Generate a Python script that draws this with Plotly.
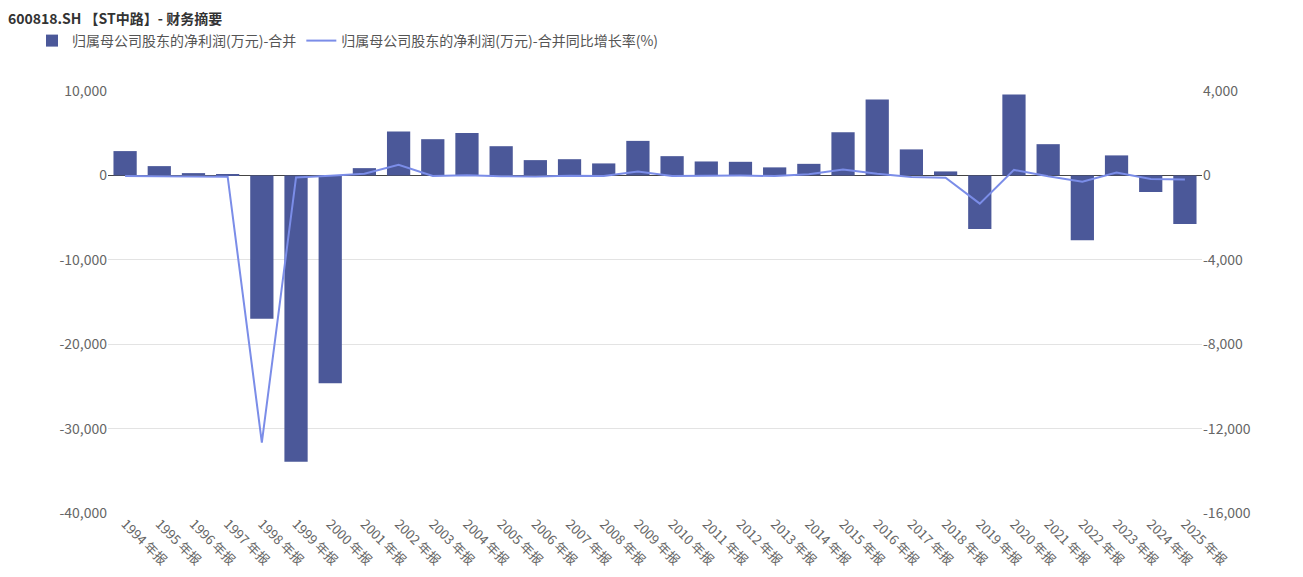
import plotly.graph_objects as go

# data
YEARS = list(range(1994, 2026))
CATEGORIES = ["%d 年报" % y for y in YEARS]

# 归属母公司股东的净利润(万元)-合并
NET_PROFIT = [2880, 1100, 270, 100, -16970, -33930, -24640, 860,
              5200, 4290, 5030, 3460, 1810, 1920, 1420, 4090,
              2280, 1650, 1610, 950, 1370, 5120, 8990, 3080,
              470, -6350, 9580, 3700, -7690, 2370, -1970, -5760]

# 归属母公司股东的净利润(万元)-合并同比增长率(%)
GROWTH = [-30, -50, -60, -60, -12660, -95, -20, 80,
          500, -30, 10, -40, -50, -20, -30, 190,
          -30, -5, -10, -30, 60, 280, 80, -75,
          -110, -1340, 260, -40, -300, 140, -170, -200]

LEFT_TICKS = [10000, 0, -10000, -20000, -30000, -40000]
RIGHT_TICKS = [4000, 0, -4000, -8000, -12000, -16000]

TITLE = "600818.SH 【ST中路】- 财务摘要"
NAME_BAR = "归属母公司股东的净利润(万元)-合并"
NAME_LINE = "归属母公司股东的净利润(万元)-合并同比增长率(%)"

BAR_COLOR = "#4b5899"
LINE_COLOR = "#7b8de8"
FONT = "Noto Sans CJK SC"

# the page body has an 8px margin, so the figure is drawn 8px in
W, H = 1295, 569


def fmt(v):
    return "{:,}".format(v)


trace_bar = go.Bar(x=CATEGORIES, y=NET_PROFIT, name=NAME_BAR,
                   marker=dict(color=BAR_COLOR, line=dict(width=0)),
                   yaxis="y")
trace_line = go.Scatter(x=CATEGORIES, y=GROWTH, name=NAME_LINE,
                        mode="lines", line=dict(color=LINE_COLOR, width=2),
                        yaxis="y2")

layout = go.Layout(
    width=W,
    height=H,
    paper_bgcolor="white",
    plot_bgcolor="white",
    font=dict(family=FONT, size=13, color="#666"),
    margin=dict(l=100, r=101, t=83, b=64),
    bargap=0.32,
    title=dict(text="<b>" + TITLE + "</b>", x=0, xref="container",
               xanchor="left", y=1 - 6 / H, yref="container",
               yanchor="top", font=dict(size=14, color="#333")),
    showlegend=True,
    legend=dict(orientation="h", x=24 / W, xref="container",
                y=1 - 33 / H, yref="container", yanchor="middle",
                xanchor="left", font=dict(size=14, color="#555"),
                itemwidth=30, tracegroupgap=0),
    xaxis=dict(type="category", tickangle=45, showgrid=False,
               showline=False, ticks="", automargin=False,
               tickfont=dict(size=13, color="#666")),
    yaxis=dict(range=[-40000, 10000], tickvals=LEFT_TICKS,
               ticktext=[fmt(v) for v in LEFT_TICKS],
               showgrid=True, gridcolor="#e3e3e3", gridwidth=1,
               zeroline=True, zerolinecolor="#444", zerolinewidth=1,
               showline=False, ticks="", automargin=False,
               tickfont=dict(size=14, color="#666")),
    yaxis2=dict(range=[-16000, 4000], tickvals=RIGHT_TICKS,
                ticktext=[fmt(v) for v in RIGHT_TICKS],
                overlaying="y", side="right", showgrid=False,
                zeroline=False, showline=False, ticks="",
                automargin=False, tickfont=dict(size=14, color="#666")),
)

fig = go.Figure(data=[trace_bar, trace_line], layout=layout)
fig.write_html("out.html")
